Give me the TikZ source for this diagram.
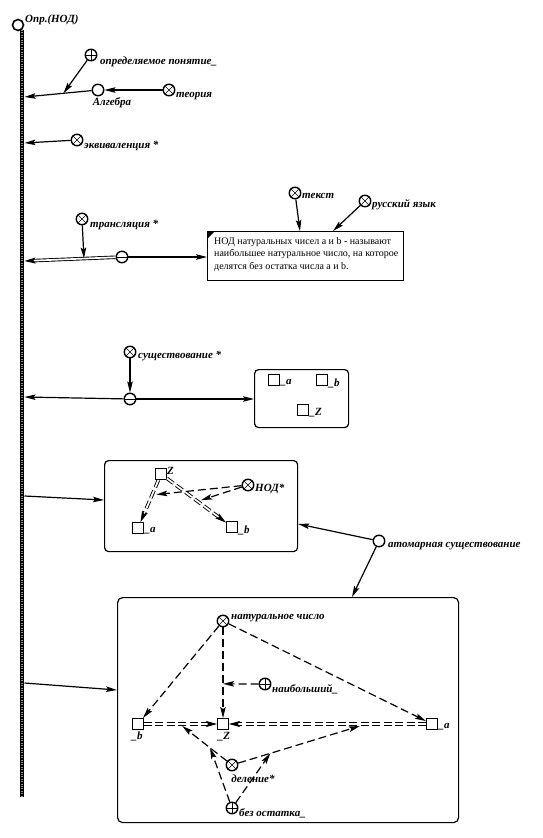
\documentclass[tikz,border=0pt]{standalone}
\usepackage{fontspec}
\setmainfont{Liberation Serif}
\usetikzlibrary{arrows.meta,calc}
\begin{document}
\begin{tikzpicture}[x=1pt,y=-1pt,
  lbl/.style={font=\fontsize{11}{12}\selectfont\bfseries\itshape, inner sep=1pt},
  circ/.style={circle,draw,line width=1.4pt,minimum size=11.5pt,inner sep=0pt},
  ox/.style={circ,path picture={\draw[line width=0.5pt] (path picture bounding box.north west)--(path picture bounding box.south east) (path picture bounding box.north east)--(path picture bounding box.south west);}},
  op/.style={circ,path picture={\draw[line width=0.6pt] (path picture bounding box.north)--(path picture bounding box.south) (path picture bounding box.west)--(path picture bounding box.east);}},
  om/.style={circ,path picture={\draw[line width=0.6pt] (path picture bounding box.west)--(path picture bounding box.east);}},
  sq/.style={rectangle,draw,line width=1.4pt,minimum size=10.5pt,inner sep=0pt},
  arr/.style={line width=1.2pt,-{Stealth[length=11pt,width=5.5pt,inset=2pt]}},
  dsh/.style={arr,dash pattern=on 8pt off 4pt},
  ddsh/.style={line width=0.9pt,double,double distance=1.7pt,dash pattern=on 8pt off 3.5pt,-{Stealth[length=11pt,width=6pt,inset=2pt]}},
  frame/.style={draw,line width=1.2pt,rounded corners=4pt},
]
\useasboundingbox (0,0) rectangle (542,838);
% main bar
\node[circle,draw,line width=1.6pt,minimum size=11pt,inner sep=0pt] (top) at (18,25) {};
\node[lbl,anchor=west] (toplbl) at (24,20) {Опр.(НОД)};
\coordinate (bartop) at (22,30);
\coordinate (barbot) at (22,797);
\draw[line width=4.5pt,black] (bartop)--(barbot);
\draw[line width=1.2pt,white!55!black,dash pattern=on 1pt off 1.4pt] (bartop)--(barbot);
% bar attach points
\coordinate (b1) at (24.5,97);
\coordinate (b2) at (24.5,143);
\coordinate (b3) at (24.5,261);
\coordinate (b4) at (24.5,397);
\coordinate (b5) at (24.5,496);
\coordinate (b6) at (24.5,683);
% group 1
\node[op] (opr) at (91,55) {};
\node[lbl,anchor=west] (oprl) at (99,62) {определяемое понятие\_};
\node[circ] (alg) at (98,90) {};
\node[lbl] (algl) at (112,103) {Алгебра};
\node[ox] (teor) at (169,90) {};
\node[lbl,anchor=west] (teorl) at (175,96) {теория};
\draw[arr] (alg)--(b1);
\draw[arr] (teor)--(alg);
\coordinate (j1) at ($(alg)!0.47!(b1)$);
\draw[arr] (opr)--(j1);
% group 2
\node[ox] (ekv) at (77,140) {};
\node[lbl,anchor=west] (ekvl) at (83,146) {эквиваленция *};
\draw[arr] (ekv)--(b2);
% group 3
\node[ox] (tr) at (82,219) {};
\node[lbl,anchor=west] (trl) at (89,225) {трансляция *};
\node[om] (trc) at (122,257) {};
\draw[line width=0.9pt,double,double distance=1.7pt,-{Stealth[length=11pt,width=6pt,inset=2pt]}] (trc)--(b3);
\coordinate (j2) at ($(trc)!0.39!(b3)$);
\draw[arr] (tr)--(j2);
\node[draw,line width=1.4pt,minimum width=196pt,minimum height=49pt,anchor=north west,inner sep=0pt] (def) at (207,231) {};
\fill (def.north west) -- ++(8,0) -- ++(-8,8) -- cycle;
\node[font=\fontsize{10}{12.5}\selectfont,align=left,anchor=north west,inner sep=0pt] (deft) at (214,237) {НОД натуральных чисел a и b - называют\\наибольшее натуральное число, на которое\\делятся без остатка числа a и b.};
\draw[arr] (trc)--(def.west |- trc);
\node[ox] (tekst) at (295,193) {};
\node[lbl,anchor=west] (tekstl) at (301,196) {текст};
\node[ox] (rus) at (365,201) {};
\node[lbl,anchor=west] (rusl) at (371,205) {русский язык};
\coordinate (d1) at (300,231);
\coordinate (d2) at (333,231);
\draw[arr] (tekst)--(d1);
\draw[arr] (rus)--(d2);
% group 4
\node[ox] (sus) at (130,352) {};
\node[lbl,anchor=west] (susl) at (137,356) {существование *};
\node[om] (susc) at (130,399) {};
\draw[arr] (sus)--(susc);
\draw[arr] (susc)--(b4);
\node[frame,minimum width=94pt,minimum height=58pt,anchor=north west,inner sep=0pt] (ebox) at (254,369) {};
\draw[arr] (susc)--(ebox.west |- susc);
\node[sq] (ea) at (274,380) {};
\node[lbl,anchor=west,inner sep=0.5pt] (eal) at ($(ea.east)+(0,3)$) {\_a};
\node[sq] (eb) at (322,380) {};
\node[lbl,anchor=west,inner sep=0.5pt] (ebl) at ($(eb.east)+(0,3)$) {\_b};
\node[sq] (ez) at (303,410) {};
\node[lbl,anchor=west,inner sep=0.5pt] (ezl) at ($(ez.east)+(0,3)$) {\_Z};
% group 5
\node[frame,minimum width=193pt,minimum height=91pt,anchor=north west,inner sep=0pt] (box5) at (104,460) {};
\draw[arr] (b5)--(box5.west |- 0,500);
\node[sq] (fz) at (161,474) {};
\node[lbl,anchor=west] (fzl) at (166,471) {Z};
\node[sq] (fa) at (138,528) {};
\node[lbl,anchor=west,inner sep=0.5pt] (fal) at ($(fa.east)+(0,3)$) {\_a};
\node[sq] (fb) at (232,527) {};
\node[lbl,anchor=west,inner sep=0.5pt] (fbl) at ($(fb.east)+(0,3)$) {\_b};
\node[ox] (nod) at (248,485) {};
\node[lbl,anchor=west] (nodl) at (254,489) {НОД*};
\draw[ddsh] (fz)--(fa);
\draw[ddsh] (fz)--(fb);
\coordinate (k1) at ($(fz)!0.38!(fa)$);
\coordinate (k2) at ($(fz)!0.55!(fb)$);
\draw[dsh] (nod)--($(k1)+(4,0)$);
\draw[dsh] (nod)--($(k2)+(1,-3)$);
% atomic
\node[circ] (atom) at (379,541) {};
\node[lbl,anchor=west] (atoml) at (387,546) {атомарная существование};
\draw[arr] (atom)--(box5.east |- 0,524);
% big box
\node[frame,rounded corners=5pt,minimum width=341pt,minimum height=225pt,anchor=north west,inner sep=0pt] (big) at (117,597) {};
\draw[arr] (atom)--(big.north -| 352,0);
\draw[arr] (b6)--(big.west |- 0,690);
\node[ox] (nat) at (223,621) {};
\node[lbl,anchor=west] (natl) at (230,618) {натуральное число};
\node[sq] (gb) at (138,724) {};
\node[lbl,anchor=north] (gbl) at ($(gb.south)+(-1,1)$) {\_b};
\node[sq] (gz) at (223,724) {};
\node[lbl,anchor=north] (gzl) at ($(gz.south)+(1,1)$) {\_Z};
\node[sq] (ga) at (432,724) {};
\node[lbl,anchor=west,inner sep=0.5pt] (gal) at ($(ga.east)+(0,3)$) {\_a};
\node[op] (naib) at (265,684) {};
\node[lbl,anchor=west] (naibl) at (271,689) {наибольший\_};
\node[ox] (del) at (232,765) {};
\node[lbl] (dell) at (253,779) {деление*};
\node[op] (bez) at (232,808) {};
\node[lbl,anchor=west] (bezl) at (238,813) {без остатка\_};
\draw[dsh] (nat)--(gb);
\draw[dsh] (nat)--(gz);
\draw[dsh] (nat)--(ga);
\coordinate (m1) at ($(nat)!0.61!(gz)$);
\draw[dsh] (naib)--(m1);
\draw[ddsh] (gb)--(gz);
\draw[ddsh] (ga)--(gz);
\coordinate (m2) at ($(gb)!0.52!(gz)+(0,2)$);
\coordinate (m3) at ($(gz)!0.655!(ga)+(0,2)$);
\draw[dsh] (del)--(m2);
\draw[dsh] (del)--(m3);
\coordinate (m4) at ($(del)!0.44!(m2)$);
\coordinate (m5) at ($(del)!0.3!(m3)$);
\draw[dsh] (bez)--(m4);
\draw[dsh] (bez)--(m5);
\end{tikzpicture}
\end{document}
